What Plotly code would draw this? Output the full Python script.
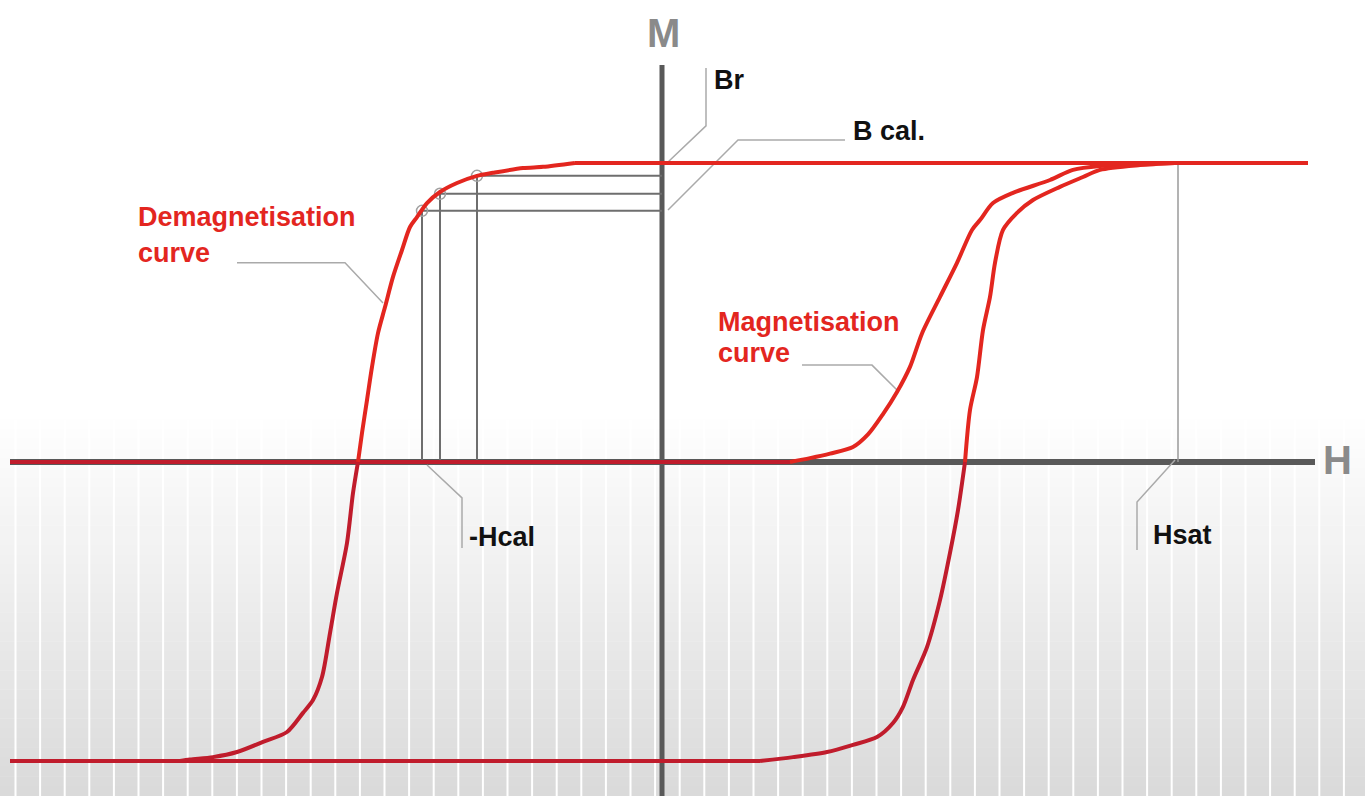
import plotly.graph_objects as go
import numpy as np

# ---------------- data (H arbitrary units, M normalised to saturation) ----------------
# Upper (demagnetisation) branch, from +Hsat side towards negative saturation
upper_H = [6.46, -0.87, -1.19, -1.39, -1.69, -1.85, -2.05, -2.22, -2.35, -2.45, -2.52,
           -2.60, -2.69, -2.77, -2.84, -2.90, -2.95, -3.00, -3.04, -3.09, -3.15, -3.25,
           -3.32, -3.40, -3.49, -3.59, -3.75, -3.99, -4.25, -4.49, -4.72, -4.82, -6.52]
upper_M = [1.0, 1.0, 0.987, 0.983, 0.967, 0.957, 0.933, 0.903, 0.866, 0.819, 0.786,
           0.709, 0.619, 0.518, 0.431, 0.318, 0.207, 0.097, 0.0, -0.104, -0.271, -0.438,
           -0.572, -0.719, -0.796, -0.839, -0.903, -0.936, -0.970, -0.987, -0.995, -1.0, -1.0]

# Lower (ascending) branch
lower_H = [-6.52, 0.98, 1.31, 1.65, 1.91, 2.15, 2.31, 2.41, 2.51, 2.65, 2.78, 2.88, 2.96,
           3.03, 3.08, 3.15, 3.21, 3.28, 3.33, 3.41, 3.55, 3.71, 3.98, 4.21, 4.38, 4.78, 5.13]
lower_M = [-1.0, -1.0, -0.987, -0.970, -0.946, -0.920, -0.873, -0.819, -0.729, -0.619,
           -0.462, -0.304, -0.161, 0.0, 0.174, 0.284, 0.441, 0.552, 0.666, 0.776, 0.833,
           0.876, 0.920, 0.953, 0.977, 0.993, 1.0]

# Initial magnetisation curve
init_H = [-6.52, 1.28, 1.48, 1.68, 1.91, 2.06, 2.21, 2.35, 2.48, 2.60, 2.78, 2.95, 3.10,
          3.18, 3.31, 3.51, 3.88, 4.11, 4.38, 5.13]
init_M = [0.0, 0.0, 0.013, 0.028, 0.050, 0.092, 0.160, 0.234, 0.318, 0.430, 0.552, 0.666,
          0.776, 0.809, 0.866, 0.900, 0.943, 0.977, 0.990, 1.0]

# Calibration points on the demagnetisation curve
cal_H = [-2.40, -2.22, -1.85]
cal_M = [0.840, 0.897, 0.957]

# Saturation field
H_sat = 5.16

# Label texts
labels = {
    "M": "M", "H": "H", "Br": "Br", "Bcal": "B cal.", "Hsat": "Hsat", "Hcal": "-Hcal",
    "demag1": "Demagnetisation", "demag2": "curve",
    "mag1": "Magnetisation", "mag2": "curve",
}

# ---------------- figure ----------------
W, H = 1365, 796
X_RANGE = [-6.62, 7.03]
Y_RANGE = [-1.117, 1.545]

RED = "#e3261f"
DARK_RED = "#c01c2c"
AXIS_GREY = "#595959"
CAL_GREY = "#6e6e6e"
LEAD_GREY = "#aaaaaa"
FONT = "Liberation Sans, Arial, sans-serif"

fig = go.Figure()

shapes = []
# background gradient in lower half
y_top_px, y_bot_px = 410, 796
n_bands = 40
for i in range(n_bands):
    y0 = y_top_px + (y_bot_px - y_top_px) * i / n_bands
    y1 = y_top_px + (y_bot_px - y_top_px) * (i + 1) / n_bands
    t = (i + 0.5) / n_bands
    c = int(round(255 - (255 - 218) * t))
    shapes.append(dict(type="rect", xref="paper", yref="paper", x0=0, x1=1,
                       y0=1 - y1 / H, y1=1 - y0 / H + 0.0005,
                       fillcolor=f"rgb({c},{c},{c})", line=dict(width=0), layer="below"))
# vertical white stripes
xs = 15.5
while xs < W:
    shapes.append(dict(type="line", xref="paper", yref="paper", x0=xs / W, x1=xs / W,
                       y0=0, y1=1 - 420 / H, line=dict(color="white", width=2), layer="below"))
    xs += 24.6

# axes
shapes.append(dict(type="line", xref="x", yref="y", x0=-6.52, x1=6.53, y0=0, y1=0,
                   line=dict(color=AXIS_GREY, width=6), layer="below"))
shapes.append(dict(type="line", xref="x", yref="y", x0=0, x1=0, y0=Y_RANGE[0], y1=1.328,
                   line=dict(color=AXIS_GREY, width=5), layer="below"))
fig.update_layout(shapes=shapes)

# calibration construction lines
for h, m in zip(cal_H, cal_M):
    fig.add_trace(go.Scatter(x=[h, 0], y=[m, m], mode="lines",
                             line=dict(color=CAL_GREY, width=2), hoverinfo="skip", showlegend=False))
    fig.add_trace(go.Scatter(x=[h, h], y=[m, 0], mode="lines",
                             line=dict(color=CAL_GREY, width=2), hoverinfo="skip", showlegend=False))
fig.add_trace(go.Scatter(x=cal_H, y=cal_M, mode="markers",
                         marker=dict(symbol="circle-open", size=11, color="#a0a0a0", line=dict(width=1.5)),
                         hoverinfo="skip", showlegend=False))

# Hsat vertical line
fig.add_trace(go.Scatter(x=[H_sat, H_sat], y=[1.0, 0.0], mode="lines",
                         line=dict(color="#9a9a9a", width=1.5), hoverinfo="skip", showlegend=False))

# leader lines
leaders = [
    ([-4.25, -3.17, -2.79], [0.666, 0.666, 0.532]),
    ([1.40, 2.10, 2.35], [0.324, 0.324, 0.241]),
    ([0.06, 0.44, 0.44], [1.003, 1.124, 1.318]),
    ([0.06, 0.76, 1.83], [0.843, 1.077, 1.077]),
    ([5.13, 4.75, 4.75], [0.007, -0.134, -0.294]),
    ([-2.35, -2.00, -2.00], [-0.010, -0.120, -0.288]),
]
for lx, ly in leaders:
    fig.add_trace(go.Scatter(x=lx, y=ly, mode="lines", line=dict(color=LEAD_GREY, width=1.5),
                             hoverinfo="skip", showlegend=False))


def add_curve(hs, ms):
    """Draw a curve: long flat segments straight, the rest smoothed; dark red below H axis."""
    hs = list(map(float, hs))
    ms = list(map(float, ms))
    runs = []  # (kind, colour, [indices])
    for i in range(len(hs) - 1):
        kind = "linear" if abs(hs[i + 1] - hs[i]) > 1.0 else "spline"
        colour = DARK_RED if (ms[i] <= 0 and ms[i + 1] <= 0) else RED
        if runs and runs[-1][0] == kind and runs[-1][1] == colour and kind == "spline":
            runs[-1][2].append(i + 1)
        else:
            runs.append((kind, colour, [i, i + 1]))
    for kind, colour, idx in runs:
        line = dict(color=colour, width=4, shape=kind)
        if kind == "spline":
            line["smoothing"] = 0.8
        fig.add_trace(go.Scatter(x=[hs[k] for k in idx], y=[ms[k] for k in idx], mode="lines",
                                 line=line, hoverinfo="skip", showlegend=False))


add_curve(init_H, init_M)
add_curve(lower_H, lower_M)
add_curve(upper_H, upper_M)

annots = []


def txt(x, y, s, size, color, xanchor="left"):
    annots.append(dict(x=x, y=y, xref="x", yref="y", text=s, showarrow=False,
                       xanchor=xanchor, yanchor="middle",
                       font=dict(family=FONT, size=size, color=color, weight="bold")))


txt(0.01, 1.435, labels["M"], 40, "#8a8a8a", "center")
txt(6.75, 0.007, labels["H"], 40, "#8a8a8a", "center")
txt(0.50, 1.278, labels["Br"], 27, "#111111")
txt(1.89, 1.107, labels["Bcal"], 27, "#111111")
txt(4.89, -0.244, labels["Hsat"], 27, "#111111")
txt(-1.95, -0.251, labels["Hcal"], 27, "#111111")
txt(-5.26, 0.819, labels["demag1"], 27, RED)
txt(-5.26, 0.699, labels["demag2"], 27, RED)
txt(0.54, 0.468, labels["mag1"], 27, RED)
txt(0.54, 0.365, labels["mag2"], 27, RED)

fig.update_layout(
    width=W, height=H, margin=dict(l=0, r=0, t=0, b=0),
    paper_bgcolor="white", plot_bgcolor="rgba(0,0,0,0)",
    xaxis=dict(range=X_RANGE, visible=False, fixedrange=True),
    yaxis=dict(range=Y_RANGE, visible=False, fixedrange=True),
    annotations=annots, showlegend=False,
)

fig.write_html("out.html", config={"displayModeBar": False},
               post_script="document.body.style.margin='0';document.body.style.overflow='hidden';")
